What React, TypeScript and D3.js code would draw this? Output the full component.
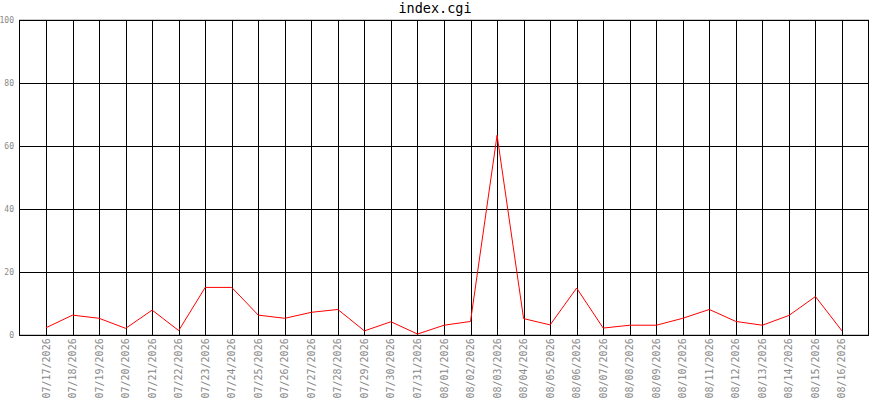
import React from "react";
import * as d3 from "d3";

const dates = [
  "07/17/2026","07/18/2026","07/19/2026","07/20/2026","07/21/2026","07/22/2026","07/23/2026","07/24/2026",
  "07/25/2026","07/26/2026","07/27/2026","07/28/2026","07/29/2026","07/30/2026","07/31/2026","08/01/2026",
  "08/02/2026","08/03/2026","08/04/2026","08/05/2026","08/06/2026","08/07/2026","08/08/2026","08/09/2026",
  "08/10/2026","08/11/2026","08/12/2026","08/13/2026","08/14/2026","08/15/2026","08/16/2026",
];
const values = [
  2.4, 6.4, 5.4, 2.2, 8.0, 1.5, 15.2, 15.2,
  6.4, 5.4, 7.3, 8.2, 1.4, 4.3, 0.4, 3.2,
  4.4, 63.5, 5.3, 3.3, 15.0, 2.3, 3.2, 3.2,
  5.4, 8.2, 4.4, 3.2, 6.3, 12.3, 1.4,
];
const yTicks = [0, 20, 40, 60, 80, 100];
const title = "index.cgi";

export default function App() {
  const W = 870, H = 400;
  const left = 19.5, right = 868.5, top = 20.3, bottom = 335.3;
  const x = d3.scaleLinear().domain([-1, dates.length]).range([left, right]);
  const y = d3.scaleLinear().domain([0, 100]).range([bottom, top]);
  const line = d3.line<number>().x((_, i) => x(i)).y((d) => y(d));
  const mono = "'DejaVu Sans Mono', monospace";
  return (
    <svg width={W} height={H} style={{ position: "absolute", left: 0, top: 0 }}>
      <rect width={W} height={H} fill="#fff" />
      <text x={W / 2} y={13} textAnchor="middle" fontFamily={mono} fontSize={13.5} fill="#000">{title}</text>
      <rect x={left} y={top} width={right - left} height={bottom - top} fill="none" stroke="#000" strokeWidth={1} />
      {yTicks.map((t) => (
        <g key={t}>
          <line x1={left} x2={right} y1={Math.round(y(t)) + 0.5} y2={Math.round(y(t)) + 0.5} stroke="#000" />
          <text x={14} y={y(t) + 2.5} textAnchor="end" fontFamily={mono} fontSize={8} fill="#888">{t}</text>
        </g>
      ))}
      {dates.map((d, i) => (
        <g key={d}>
          <line x1={Math.round(x(i)) + 0.5} x2={Math.round(x(i)) + 0.5} y1={top} y2={bottom} stroke="#000" />
          <text
            transform={`translate(${x(i) + 3.5},${bottom + 3}) rotate(-90)`}
            textAnchor="end"
            fontFamily={mono}
            fontSize={10}
            fill="#888"
          >{d}</text>
        </g>
      ))}
      <path d={line(values) || ""} fill="none" stroke="#f00" strokeWidth={1} />
    </svg>
  );
}
